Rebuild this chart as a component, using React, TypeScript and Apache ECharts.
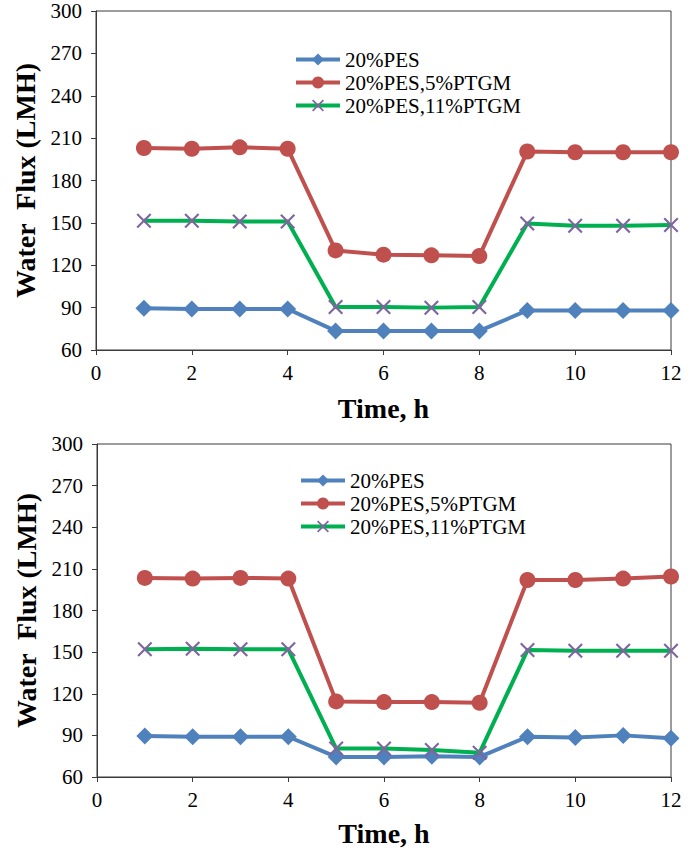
import React, { useEffect, useRef } from "react";
import * as echarts from "echarts";

const hours = [1, 2, 3, 4, 5, 6, 7, 8, 9, 10, 11, 12];
const seriesNames = ["20%PES", "20%PES,5%PTGM", "20%PES,11%PTGM"];

// Top panel
const topPES = [89.5, 89, 89, 89, 73.5, 73.5, 73.5, 73.5, 88, 88, 88, 88];
const topPTGM5 = [203, 202.5, 203.5, 202.5, 130.5, 127.5, 127, 126.5, 200.5, 200, 200, 200];
const topPTGM11 = [151.5, 151.5, 151, 151, 90.5, 90.5, 90, 90.5, 149.5, 148, 148, 148.5];

// Bottom panel
const botPES = [89.5, 89, 89, 89, 74.5, 74.5, 75, 74.5, 89, 88.5, 90, 88];
const botPTGM5 = [203.5, 203, 203.5, 203, 114.5, 114, 114, 113.5, 202, 202, 203, 204.5];
const botPTGM11 = [152, 152.5, 152, 152, 80.5, 80.5, 79.5, 77.5, 151.5, 151, 151, 151];

const xTicks = { min: 0, max: 12, interval: 2 };
const yTicks = { min: 60, max: 300, interval: 30 };

const FONT = "Liberation Serif";
const AXIS_COLOR = "#3a3a3a";
const X_SYMBOL = "path://M0,1 L1,0 L5,4 L9,0 L10,1 L6,5 L10,9 L9,10 L5,6 L1,10 L0,9 L4,5 Z";

const colors = {
  blue: "#4F81BD",
  red: "#C0504D",
  green: "#00B050",
  purple: "#8064A2",
};

function pairs(vals: number[]) {
  return hours.map((h, i) => [h, vals[i]]);
}

function makeSeries(idx: number, pes: number[], p5: number[], p11: number[]) {
  return [
    {
      name: seriesNames[0],
      type: "line",
      xAxisIndex: idx,
      yAxisIndex: idx,
      data: pairs(pes),
      symbol: "diamond",
      symbolSize: 17,
      lineStyle: { color: colors.blue, width: 4 },
      itemStyle: { color: colors.blue },
      z: 3,
    },
    {
      name: seriesNames[1],
      type: "line",
      xAxisIndex: idx,
      yAxisIndex: idx,
      data: pairs(p5),
      symbol: "circle",
      symbolSize: 16,
      lineStyle: { color: colors.red, width: 4 },
      itemStyle: { color: colors.red },
      z: 3,
    },
    {
      name: seriesNames[2],
      type: "line",
      xAxisIndex: idx,
      yAxisIndex: idx,
      data: pairs(p11),
      symbol: X_SYMBOL,
      symbolSize: 15,
      lineStyle: { color: colors.green, width: 4 },
      itemStyle: { color: colors.purple },
      z: 4,
    },
  ];
}

function xAxis(idx: number, gap: number) {
  return {
    type: "value",
    gridIndex: idx,
    ...xTicks,
    name: "Time, h",
    nameLocation: "middle",
    nameGap: gap,
    nameTextStyle: { fontFamily: FONT, fontSize: 28, fontWeight: "bold", color: "#000" },
    axisLine: { show: true, lineStyle: { color: AXIS_COLOR, width: 1 } },
    axisTick: { show: true, inside: false, length: 5, lineStyle: { color: AXIS_COLOR } },
    axisLabel: { fontFamily: FONT, fontSize: 21, color: "#000", margin: 12 },
    splitLine: { show: false },
  };
}

function yAxis(idx: number, gap: number) {
  return {
    type: "value",
    gridIndex: idx,
    ...yTicks,
    name: "Water  Flux (LMH)",
    nameLocation: "middle",
    nameGap: gap,
    nameRotate: 90,
    nameTextStyle: { fontFamily: FONT, fontSize: 28, fontWeight: "bold", color: "#000" },
    axisLine: { show: true, lineStyle: { color: AXIS_COLOR, width: 1 } },
    axisTick: { show: true, inside: false, length: 5, lineStyle: { color: AXIS_COLOR } },
    axisLabel: { fontFamily: FONT, fontSize: 21, color: "#000", margin: 14 },
    splitLine: { show: false },
  };
}

function legend(left: number, top: number) {
  return {
    orient: "vertical",
    left,
    top,
    itemWidth: 44,
    itemHeight: 15,
    itemGap: 2,
    data: seriesNames,
    lineStyle: { width: 4 },
    textStyle: { fontFamily: FONT, fontSize: 21, color: "#000", lineHeight: 20 },
    selectedMode: false,
  };
}

export default function App() {
  const ref = useRef<HTMLDivElement>(null);
  useEffect(() => {
    if (!ref.current) return;
    const chart = echarts.init(ref.current, undefined, { renderer: "svg" });
    chart.setOption({
      animation: false,
      backgroundColor: "#fff",
      textStyle: { fontFamily: FONT },
      grid: [
        { left: 96, top: 11, width: 575, height: 339, show: true, borderColor: AXIS_COLOR, borderWidth: 1, backgroundColor: "transparent" },
        { left: 97, top: 444, width: 574, height: 333, show: true, borderColor: AXIS_COLOR, borderWidth: 1, backgroundColor: "transparent" },
      ],
      legend: [legend(289, 44), legend(294, 465)],
      xAxis: [xAxis(0, 44), xAxis(1, 42)],
      yAxis: [yAxis(0, 55), yAxis(1, 55)],
      series: [...makeSeries(0, topPES, topPTGM5, topPTGM11), ...makeSeries(1, botPES, botPTGM5, botPTGM11)],
    });
    return () => chart.dispose();
  }, []);
  return (
    <div
      ref={ref}
      style={{ position: "absolute", left: 0, top: 0, width: 689, height: 851, background: "#fff" }}
    />
  );
}
